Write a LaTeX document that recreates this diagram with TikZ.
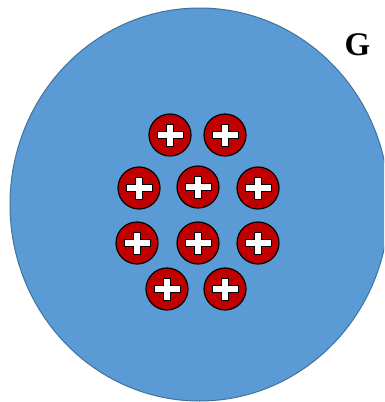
\documentclass[tikz,border=0pt]{standalone}
\usepackage{fontspec}
\setmainfont{Liberation Serif}
\definecolor{bigblue}{HTML}{5B9BD5}
\definecolor{edgeblue}{HTML}{41719C}
\definecolor{chargered}{HTML}{C00000}
\tikzset{
  charge/.style={circle, draw=black, line width=1.2pt, fill=chargered,
    minimum size=42pt, inner sep=0pt,
    path picture={
      \begin{scope}[shift={(path picture bounding box.center)}]
        \draw[fill=white, draw=black, line width=0.9pt]
          (-13,-3.5) -- (-3.5,-3.5) -- (-3.5,-11) -- (3.5,-11) -- (3.5,-3.5)
          -- (13,-3.5) -- (13,3.5) -- (3.5,3.5) -- (3.5,11) -- (-3.5,11)
          -- (-3.5,3.5) -- (-13,3.5) -- cycle;
      \end{scope}
    }}
}
\begin{document}
\begin{tikzpicture}[x=1pt,y=-1pt]
\useasboundingbox (0,0) rectangle (384,402);
\begin{scope}
  \clip (0,0) rectangle (384,402);
  \draw[fill=bigblue, draw=edgeblue, line width=1pt] (199.5,204.5) ellipse[x radius=189.5, y radius=196.5];
\end{scope}
\node[font=\bfseries\fontsize{33}{34}\selectfont, inner sep=0pt] (glabel) at (357.5,45) {G};
\node[charge] (c1) at (170,135) {};
\node[charge] (c2) at (225,135) {};
\node[charge] (c3) at (139,188) {};
\node[charge] (c4) at (198,187) {};
\node[charge] (c5) at (258,188) {};
\node[charge] (c6) at (137,243) {};
\node[charge] (c7) at (198,243) {};
\node[charge] (c8) at (258,243) {};
\node[charge] (c9) at (167,289) {};
\node[charge] (c10) at (225,289) {};
\end{tikzpicture}
\end{document}
